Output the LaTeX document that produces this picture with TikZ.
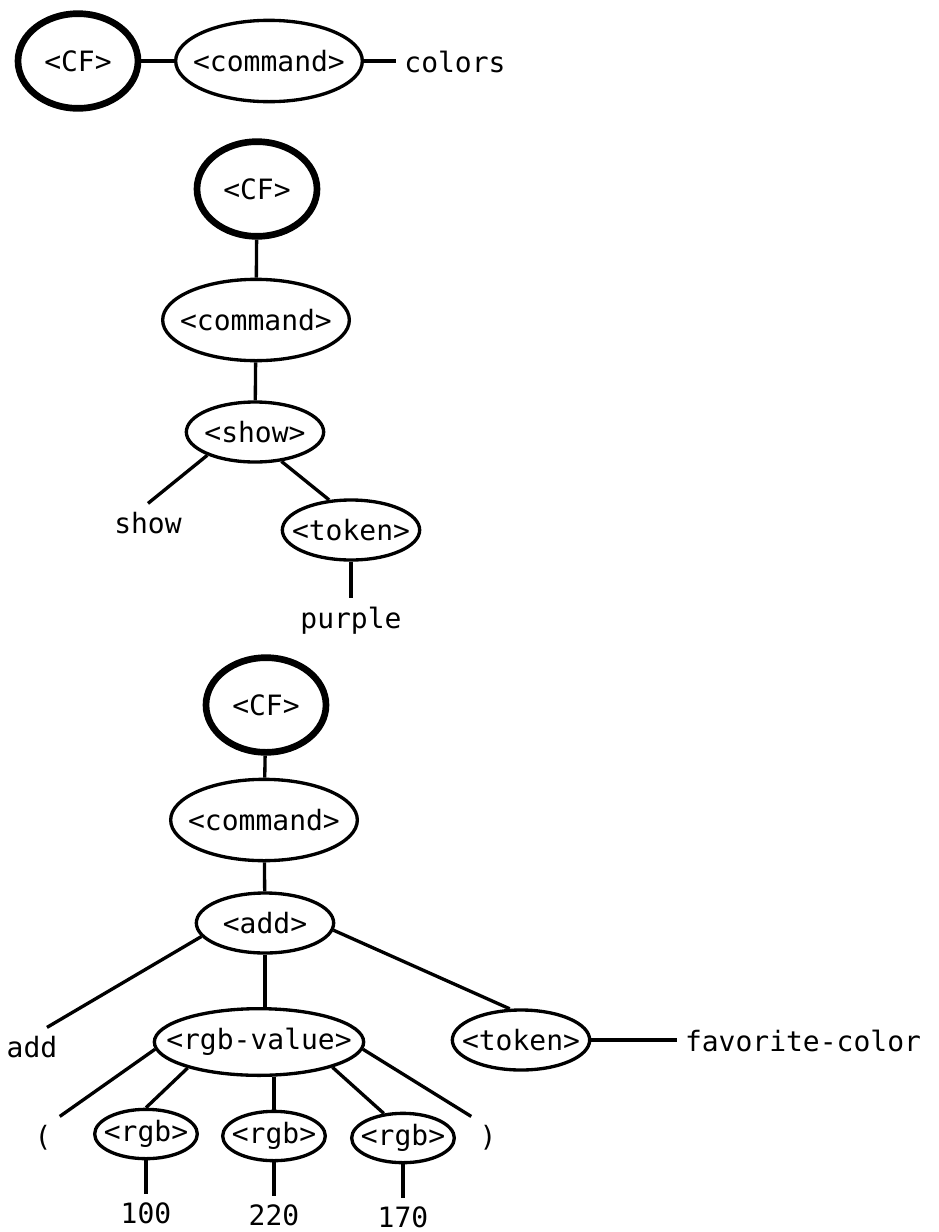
\documentclass[tikz,border=0pt]{standalone}
\usepackage{fontspec}
\setmonofont{DejaVu Sans Mono}
\usetikzlibrary{shapes.geometric}

\begin{document}
\begin{tikzpicture}[x=0.75pt,y=0.75pt,yscale=-1,xscale=1,
  font=\ttfamily\fontsize{21}{25}\selectfont, line width=2.5pt,
  nt/.style={draw, ellipse, inner sep=-20pt, line width=2.5pt},
  root/.style={nt, line width=5pt, minimum width=90pt, minimum height=71pt},
  cmd/.style={nt, minimum width=140pt, minimum height=61pt},
  mid/.style={nt, minimum width=103pt, minimum height=45pt},
  wide/.style={nt, minimum width=157pt, minimum height=50pt},
  small/.style={nt, minimum width=77pt, minimum height=37pt},
  tm/.style={inner sep=5pt, anchor=base}]
\useasboundingbox (0,0) rectangle (939,1232);

% colors
\node [root] (cf1) at (78,61) {<CF>};
\node [cmd] (cmd1) at (269,61) {<command>};
\node [tm] (lcolors) at (455,72) {colors};
\draw (cf1) -- (cmd1);
\draw (cmd1) -- (cmd1 -| lcolors.west);

% show purple
\node [root] (cf2) at (257,189) {<CF>};
\node [cmd] (cmd2) at (256,320) {<command>};
\node [mid] (shw) at (255,432) {<show>};
\node [tm] (lshow) at (148,533) {show};
\node [mid] (tok2) at (351,530) {<token>};
\node [tm] (lpurple) at (351,628) {purple};
\draw (cf2) -- (cmd2);
\draw (cmd2) -- (shw);
\draw (shw.206) -- (lshow.north);
\draw (shw.312) -- (tok2.126);
\draw (tok2) -- (lpurple);

% add (100 220 170) favorite-color
\node [root] (cf3) at (266,705) {<CF>};
\node [cmd] (cmd3) at (264,820) {<command>};
\node [mid] (add) at (265,923) {<add>};
\node [tm] (ladd) at (32,1057) {add};
\node [wide] (rgbv) at (259,1042) {<rgb-value>};
\node [mid] (tok3) at (521,1040) {<token>};
\node [tm] (lfav) at (803,1051) {favorite-color};
\node [tm] (lopen) at (43,1146) {(};
\node [small] (rgb1) at (146,1134) {<rgb>};
\node [small] (rgb2) at (274,1136) {<rgb>};
\node [small] (rgb3) at (403,1138) {<rgb>};
\node [tm] (lclose) at (488,1146) {)};
\node [tm] (l100) at (146,1223) {100};
\node [tm] (l220) at (274,1225) {220};
\node [tm] (l170) at (403,1227) {170};
\draw (cf3) -- (cmd3);
\draw (cmd3) -- (add);
\draw (add.192) -- (ladd.52);
\draw (add.south) -- (add.south |- rgbv.north);
\draw (add.354) -- (tok3.110);
\draw (tok3) -- (tok3 -| lfav.west);
\draw (rgbv.184) -- (lopen.north east);
\draw (rgbv.200) -- (rgb1.north);
\draw (rgb2.north) -- (rgb2.north |- rgbv.south);
\draw (rgbv.341) -- (rgb3.128);
\draw (rgbv.356) -- (lclose.north west);
\draw (rgb1) -- (l100);
\draw (rgb2) -- (l220);
\draw (rgb3) -- (l170);
\end{tikzpicture}
\end{document}
